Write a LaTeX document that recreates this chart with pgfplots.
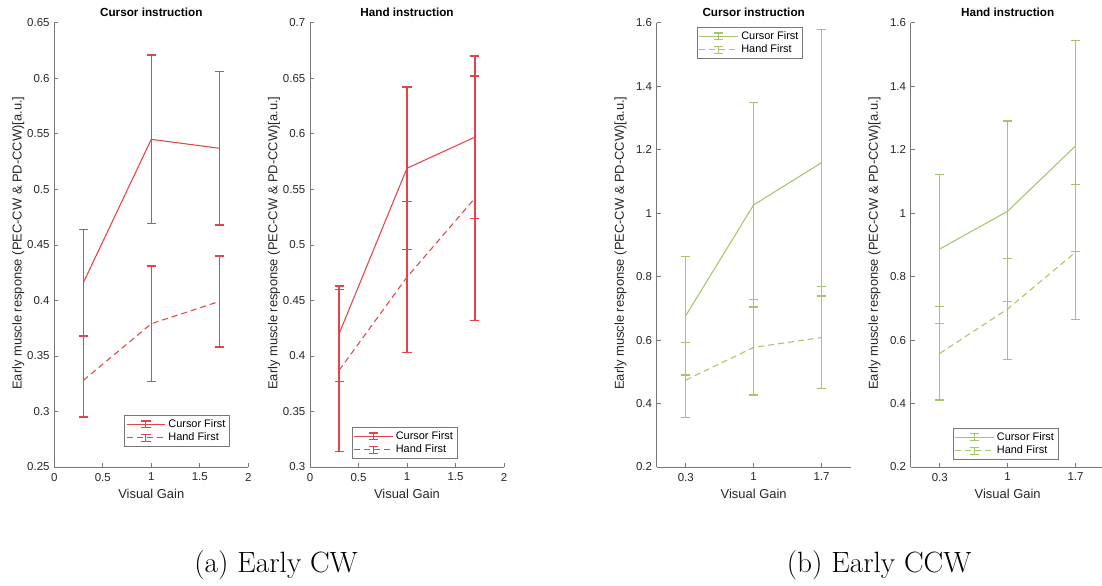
\documentclass[border=0pt]{standalone}
\usepackage{fontspec}
\usepackage{pgfplots}
\pgfplotsset{compat=1.18}
\newfontfamily\arial{Liberation Sans}
\definecolor{cred}{RGB}{228,68,72}
\definecolor{cgrn}{RGB}{164,198,104}
\definecolor{axgray}{RGB}{120,120,120}
\definecolor{txt}{RGB}{38,38,38}

\pgfplotsset{
  panel/.style={
    scale only axis, width=145.5pt, height=333.2pt,
    axis lines=left, axis line style={-, axgray, line width=0.5pt},
    tick style={axgray, line width=0.5pt}, major tick length=3pt,
    tick align=inside,
    /pgf/number format/assume math mode=true,
    tick label style={font=\arial\fontsize{8.6}{10}\selectfont, text=txt},
    xticklabel style={yshift=-1pt},
    xlabel={Visual Gain},
    ylabel={Early muscle response (PEC-CW \& PD-CCW)[a.u.]},
    label style={font=\arial\fontsize{9.7}{11}\selectfont, text=txt},
    xlabel style={at={(axis description cs:0.5,-0.06)}, anchor=center},
    ylabel style={at={(axis description cs:-0.186,0.504)}, anchor=center},
    every axis title shift=0pt,
    title style={font=\arial\bfseries\fontsize{8.8}{10}\selectfont, at={(axis description cs:0.5,1.0226)}, anchor=center},
    legend cell align=left,
    legend style={font=\arial\fontsize{8.2}{9.5}\selectfont, draw=axgray, line width=0.5pt,
      inner sep=1pt, row sep=-1.5pt, text=black},
    unbounded coords=jump,
  },
  errleg/.style={legend image code/.code={
    \draw[##1] (0pt,0pt) -- (29pt,0pt);
    \draw[##1,solid] (14.5pt,-2.6pt) -- (14.5pt,2.6pt) (11pt,2.6pt) -- (18pt,2.6pt) (11pt,-2.6pt) -- (18pt,-2.6pt);
  }},
  cf/.style={color=#1, line width=0.8pt, mark=none, errleg},
  hf/.style={cf=#1, dash pattern=on 4.5pt off 3pt},
  % error bars: low and high end of each bar, nan between bars
  eb/.style={color=#1, solid, line width=1pt, forget plot, mark=-, mark size=3.4pt,
    mark options={solid}},
}

\begin{document}
\begin{tikzpicture}
% (a) Early CW - Cursor instruction
\begin{axis}[panel, at={(40.7pt,88.5pt)}, anchor=south west,
  title={Cursor instruction},
  xmin=0, xmax=2, ymin=0.25, ymax=0.65,
  xtick={0,0.5,1,1.5,2}, ytick={0.25,0.3,...,0.66},
  legend style={at={(axis description cs:0.905,0.045)}, anchor=south east}]
\addplot[cf=cred] coordinates {(0.3,0.416) (1,0.545) (1.7,0.537)};
\addplot[hf=cred] coordinates {(0.3,0.328) (1,0.379) (1.7,0.399)};
\legend{Cursor First, Hand First}
\addplot[eb=cred] coordinates {
  (0.3,0.368) (0.3,0.464) (0.3,nan)
  (1,0.469) (1,0.621) (1,nan)
  (1.7,0.468) (1.7,0.606)};
\addplot[eb=cred] coordinates {
  (0.3,0.295) (0.3,0.368) (0.3,nan)
  (1,0.327) (1,0.431) (1,nan)
  (1.7,0.358) (1.7,0.440)};
\end{axis}
% (a) Early CW - Hand instruction
\begin{axis}[panel, at={(232.5pt,88.5pt)}, anchor=south west,
  title={Hand instruction},
  xmin=0, xmax=2, ymin=0.3, ymax=0.7,
  xtick={0,0.5,1,1.5,2}, ytick={0.3,0.35,...,0.71},
  legend style={at={(axis description cs:0.759,0.018)}, anchor=south east}]
\addplot[cf=cred] coordinates {(0.3,0.420) (1,0.569) (1.7,0.597)};
\addplot[hf=cred] coordinates {(0.3,0.387) (1,0.471) (1.7,0.542)};
\legend{Cursor First, Hand First}
\addplot[eb=cred] coordinates {
  (0.3,0.377) (0.3,0.463) (0.3,nan)
  (1,0.496) (1,0.642) (1,nan)
  (1.7,0.524) (1.7,0.670)};
\addplot[eb=cred] coordinates {
  (0.3,0.314) (0.3,0.460) (0.3,nan)
  (1,0.403) (1,0.539) (1,nan)
  (1.7,0.432) (1.7,0.652)};
\end{axis}
% (b) Early CCW - Cursor instruction
\begin{axis}[panel, at={(492.5pt,88.5pt)}, anchor=south west,
  title={Cursor instruction},
  xmin=0, xmax=2, ymin=0.2, ymax=1.6,
  xtick={0.3,1,1.7}, ytick={0.2,0.4,...,1.61},
  legend style={at={(axis description cs:0.753,0.99)}, anchor=north east}]
\addplot[cf=cgrn] coordinates {(0.3,0.677) (1,1.026) (1.7,1.159)};
\addplot[hf=cgrn] coordinates {(0.3,0.474) (1,0.577) (1.7,0.608)};
\legend{Cursor First, Hand First}
\addplot[eb=cgrn] coordinates {
  (0.3,0.490) (0.3,0.864) (0.3,nan)
  (1,0.704) (1,1.348) (1,nan)
  (1.7,0.739) (1.7,1.579)};
\addplot[eb=cgrn] coordinates {
  (0.3,0.356) (0.3,0.592) (0.3,nan)
  (1,0.427) (1,0.727) (1,nan)
  (1.7,0.448) (1.7,0.768)};
\end{axis}
% (b) Early CCW - Hand instruction
\begin{axis}[panel, at={(683pt,88.5pt)}, anchor=south west,
  title={Hand instruction},
  xmin=0, xmax=2, ymin=0.2, ymax=1.6,
  xtick={0.3,1,1.7}, ytick={0.2,0.4,...,1.61},
  legend style={at={(axis description cs:0.761,0.016)}, anchor=south east}]
\addplot[cf=cgrn] coordinates {(0.3,0.887) (1,1.006) (1.7,1.212)};
\addplot[hf=cgrn] coordinates {(0.3,0.558) (1,0.698) (1.7,0.877)};
\legend{Cursor First, Hand First}
\addplot[eb=cgrn] coordinates {
  (0.3,0.652) (0.3,1.122) (0.3,nan)
  (1,0.722) (1,1.290) (1,nan)
  (1.7,0.880) (1.7,1.544)};
\addplot[eb=cgrn] coordinates {
  (0.3,0.411) (0.3,0.705) (0.3,nan)
  (1,0.538) (1,0.858) (1,nan)
  (1.7,0.664) (1.7,1.090)};
\end{axis}
\node at (207pt,15pt) {\fontsize{22}{26}\selectfont (a) Early CW};
\node at (659.25pt,15pt) {\fontsize{22}{26}\selectfont (b) Early CCW};
\pgfresetboundingbox
\useasboundingbox (0,0) rectangle (826.5pt,438.75pt);
\end{tikzpicture}
\end{document}
